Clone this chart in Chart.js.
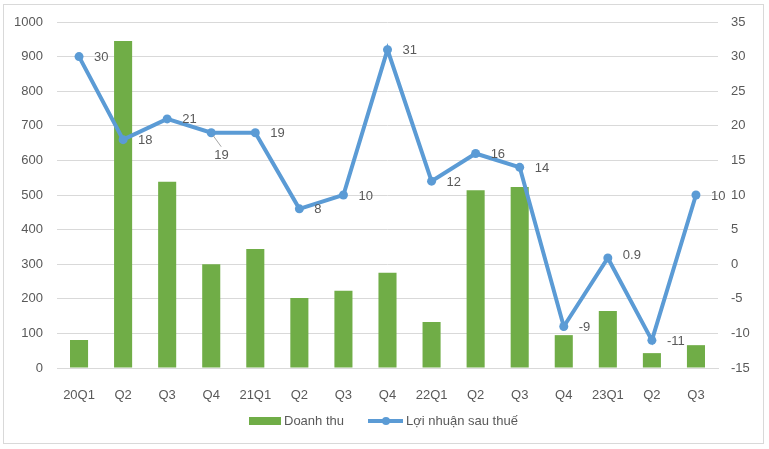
<!DOCTYPE html>
<html>
<head>
<meta charset="utf-8">
<script src="https://cdn.jsdelivr.net/npm/chart.js@4.4.0/dist/chart.umd.min.js"></script>
<style>
  body { margin: 0; background: #fff; }
  #wrap { width: 769px; height: 449px; }
</style>
</head>
<body>
<div id="wrap"><canvas id="chart" width="769" height="449"></canvas></div>
<script>
// data
const quarters = ['20Q1', 'Q2', 'Q3', 'Q4', '21Q1', 'Q2', 'Q3', 'Q4', '22Q1', 'Q2', 'Q3', 'Q4', '23Q1', 'Q2', 'Q3'];
const revenue = [81, 945, 538, 300, 344, 202, 223, 275, 133, 514, 523, 95, 165, 43, 66];
const profit = [30, 18, 21, 19, 19, 8, 10, 31, 12, 16, 14, -9, 0.9, -11, 10];
const profitText = ['30', '18', '21', '19', '19', '8', '10', '31', '12', '16', '14', '-9', '0.9', '-11', '10'];
const leftTicks = [0, 1000, 100];
const rightTicks = [-15, 35, 5];

const GREEN = '#70AD47';
const BLUE = '#5B9BD5';
const TEXT = '#595959';
const GRID = '#D9D9D9';
const FONT = '"Liberation Sans", Arial, sans-serif';

// frame + legend drawn by hand, like the Excel export
const framePlugin = {
    id: 'frame',
    beforeDraw(chart) {
        const ctx = chart.ctx;
        ctx.save();
        ctx.fillStyle = '#fff';
        ctx.fillRect(0, 0, chart.width, chart.height);
        ctx.strokeStyle = GRID;
        ctx.lineWidth = 1;
        ctx.strokeRect(3.5, 4.5, 760, 439);
        ctx.restore();
    },
    afterDraw(chart) {
        const ctx = chart.ctx;
        ctx.save();
        ctx.font = '13px ' + FONT;
        ctx.fillStyle = TEXT;
        ctx.textBaseline = 'middle';
        // Doanh thu
        ctx.fillStyle = GREEN;
        ctx.fillRect(249, 417, 32, 8);
        ctx.fillStyle = TEXT;
        ctx.fillText('Doanh thu', 284, 421);
        // Loi nhuan
        ctx.strokeStyle = BLUE;
        ctx.lineWidth = 4;
        ctx.beginPath();
        ctx.moveTo(368, 421);
        ctx.lineTo(403, 421);
        ctx.stroke();
        ctx.fillStyle = BLUE;
        ctx.beginPath();
        ctx.arc(386, 421, 4, 0, Math.PI * 2);
        ctx.fill();
        ctx.fillStyle = TEXT;
        ctx.fillText('Lợi nhuận sau thuế', 406, 421);
        ctx.restore();
    }
};

// value labels next to each profit point
const labelPlugin = {
    id: 'pointLabels',
    afterDatasetsDraw(chart) {
        const meta = chart.getDatasetMeta(1);
        const ctx = chart.ctx;
        ctx.save();
        ctx.font = '13px ' + FONT;
        ctx.fillStyle = TEXT;
        ctx.textBaseline = 'middle';
        meta.data.forEach((pt, i) => {
            let dx = 15, dy = 1;
            if (i === 3) {
                // this one sits below with a little leader line
                dx = 3; dy = 23;
                ctx.strokeStyle = '#A6A6A6';
                ctx.lineWidth = 1;
                ctx.beginPath();
                ctx.moveTo(pt.x + 2, pt.y + 3);
                ctx.lineTo(pt.x + 10, pt.y + 14);
                ctx.stroke();
            }
            if (i === 12) dy = -3;
            ctx.fillText(profitText[i], pt.x + dx, pt.y + dy);
        });
        ctx.restore();
    }
};

const ctx = document.getElementById('chart').getContext('2d');
const chart = new Chart(ctx, {
    type: 'bar',
    data: {
        labels: quarters,
        datasets: [{
            type: 'bar',
            label: 'Doanh thu',
            data: revenue,
            backgroundColor: GREEN,
            yAxisID: 'y',
            barPercentage: 0.41,
            categoryPercentage: 1,
            order: 2
        }, {
            type: 'line',
            label: 'Lợi nhuận sau thuế',
            data: profit,
            borderColor: BLUE,
            backgroundColor: BLUE,
            borderWidth: 4,
            pointRadius: 4.5,
            pointHoverRadius: 4.5,
            pointBorderWidth: 0,
            tension: 0,
            yAxisID: 'y1',
            order: 1
        }]
    },
    options: {
        responsive: false,
        animation: false,
        layout: {
            padding: { top: 22, bottom: 0, left: 0, right: 0 }
        },
        scales: {
            x: {
                grid: { display: false },
                border: { display: true, color: GRID },
                ticks: {
                    color: TEXT,
                    padding: 12,
                    maxRotation: 0,
                    autoSkip: false,
                    font: { family: FONT, size: 13 }
                },
                afterFit(scale) { scale.height = 81; }
            },
            y: {
                position: 'left',
                min: leftTicks[0],
                max: leftTicks[1],
                ticks: {
                    stepSize: leftTicks[2],
                    color: TEXT,
                    padding: 14,
                    font: { family: FONT, size: 13 },
                    callback: value => String(value)
                },
                grid: { color: GRID, drawTicks: false },
                border: { display: false },
                afterFit(scale) { scale.width = 57; }
            },
            y1: {
                position: 'right',
                min: rightTicks[0],
                max: rightTicks[1],
                ticks: {
                    stepSize: rightTicks[2],
                    color: TEXT,
                    padding: 13,
                    font: { family: FONT, size: 13 },
                    callback: value => String(value)
                },
                grid: { display: false, drawTicks: false },
                border: { display: false },
                afterFit(scale) { scale.width = 51; }
            }
        },
        plugins: {
            legend: { display: false },
            tooltip: { enabled: false }
        }
    },
    plugins: [framePlugin, labelPlugin]
});
</script>
</body>
</html>
